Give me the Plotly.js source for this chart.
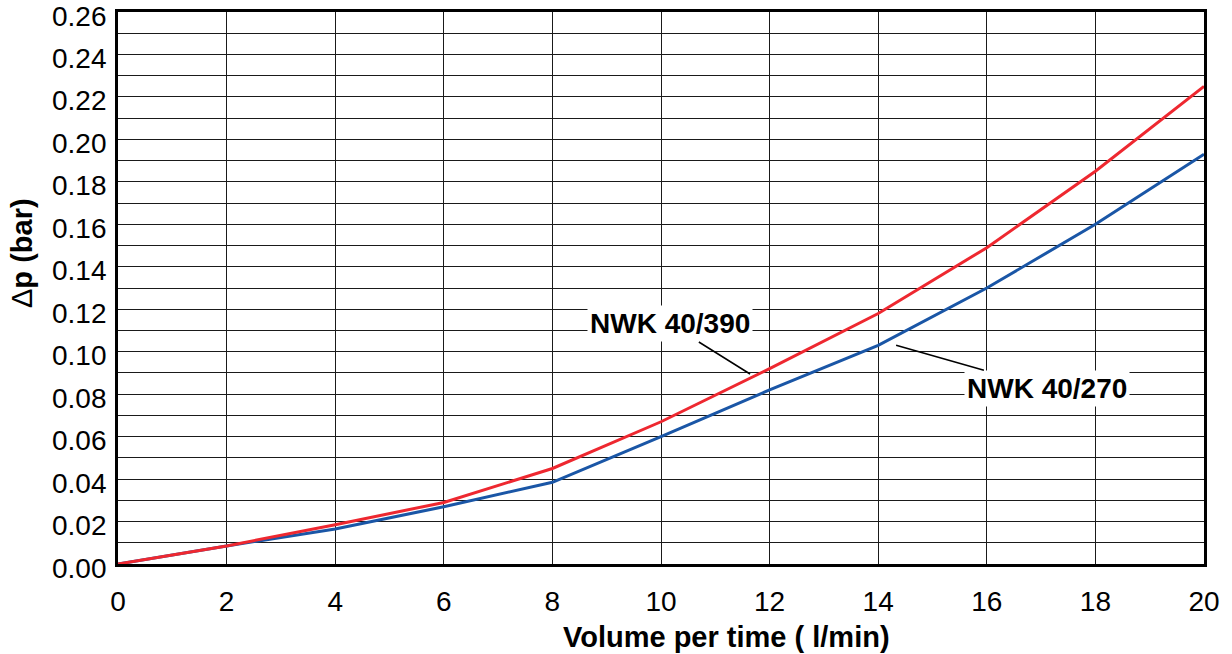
<!DOCTYPE html>
<html><head><meta charset="utf-8">
<script src="https://cdn.plot.ly/plotly-3.0.1.min.js"></script>
<style>body{margin:0;background:#fff}#chart{width:1232px;height:654px}</style>
</head><body><div id="chart"></div>
<script>
const flow = [0, 2, 4, 6, 8, 10, 12, 14, 16, 18, 20];
const nwk390 = [0, 0.0085, 0.0185, 0.029, 0.045, 0.067, 0.092, 0.118, 0.149, 0.185, 0.225];
const nwk270 = [0, 0.0085, 0.0165, 0.027, 0.0385, 0.060, 0.082, 0.103, 0.130, 0.160, 0.193];
const yTickVals = [0, 0.02, 0.04, 0.06, 0.08, 0.10, 0.12, 0.14, 0.16, 0.18, 0.20, 0.22, 0.24, 0.26];
const labels = ["NWK 40/390", "NWK 40/270"];
const xTitle = "Volume per time ( l/min)";
const yTitle = "<span style='font-weight:normal'>Δ</span><b>p (bar)</b>";

const traces = [
  {x: flow, y: nwk270, mode: 'lines', line: {color: '#1a56a6', width: 3}, name: labels[1]},
  {x: flow, y: nwk390, mode: 'lines', line: {color: '#ee2830', width: 3}, name: labels[0]}
];
const font = {family: 'Liberation Sans, Arial, sans-serif', color: '#000'};
const yTickAnn = yTickVals.map(v => ({
  xref: 'paper', yref: 'y', x: 0, y: v, xanchor: 'right', yanchor: 'middle',
  xshift: -9, yshift: -4, text: v.toFixed(2), showarrow: false,
  font: {size: 28, family: font.family, color: '#000'}
}));
const layout = {
  width: 1232, height: 654,
  margin: {l: 118, r: 28, t: 12, b: 90},
  paper_bgcolor: '#fff', plot_bgcolor: '#fff',
  showlegend: false,
  font: font,
  xaxis: {
    range: [0, 20.0001], dtick: 2, tick0: 0,
    showgrid: true, gridcolor: '#1a1a1a', gridwidth: 1,
    showline: true, linecolor: '#000', linewidth: 3, mirror: true,
    zeroline: false, ticks: '', ticklabelstandoff: 10, ticklabeloverflow: 'allow',
    tickfont: {size: 28, family: font.family, color: '#000'}
  },
  yaxis: {
    range: [0, 0.26001], dtick: 0.02, tick0: 0, tickformat: '.2f', showticklabels: false,
    showgrid: true, gridcolor: '#1a1a1a', gridwidth: 1,
    minor: {dtick: 0.01, showgrid: true, gridcolor: '#1a1a1a', gridwidth: 1},
    showline: true, linecolor: '#000', linewidth: 3, mirror: true,
    zeroline: false, ticks: ''
  },
  annotations: yTickAnn.concat([
    {xref: 'paper', yref: 'paper', x: 0.5599, y: -0.1322, xanchor: 'center', yanchor: 'middle',
     text: '<b>' + xTitle + '</b>', showarrow: false, font: {size: 29, family: font.family, color: '#000'}},
    {xref: 'paper', yref: 'paper', x: -0.0884, y: 0.5634, xanchor: 'center', yanchor: 'middle', textangle: -90,
     text: yTitle, showarrow: false, font: {size: 29, family: font.family, color: '#000'}},
    {x: 11.64, y: 0.0895, xref: 'x', yref: 'y', text: '<b>' + labels[0] + '</b>',
     showarrow: true, arrowhead: 0, arrowwidth: 1.5, arrowcolor: '#000', ax: -80, ay: -50,
     bgcolor: '#fff', borderpad: 2, font: {size: 28, family: font.family, color: '#000'}},
    {x: 14.33, y: 0.103, xref: 'x', yref: 'y', text: '<b>' + labels[1] + '</b>',
     showarrow: true, arrowhead: 0, arrowwidth: 1.5, arrowcolor: '#000', ax: 151, ay: 43,
     bgcolor: '#fff', borderpad: 2, font: {size: 28, family: font.family, color: '#000'}}
  ])
};
Plotly.newPlot('chart', traces, layout, {displayModeBar: false, staticPlot: true});
</script></body></html>
